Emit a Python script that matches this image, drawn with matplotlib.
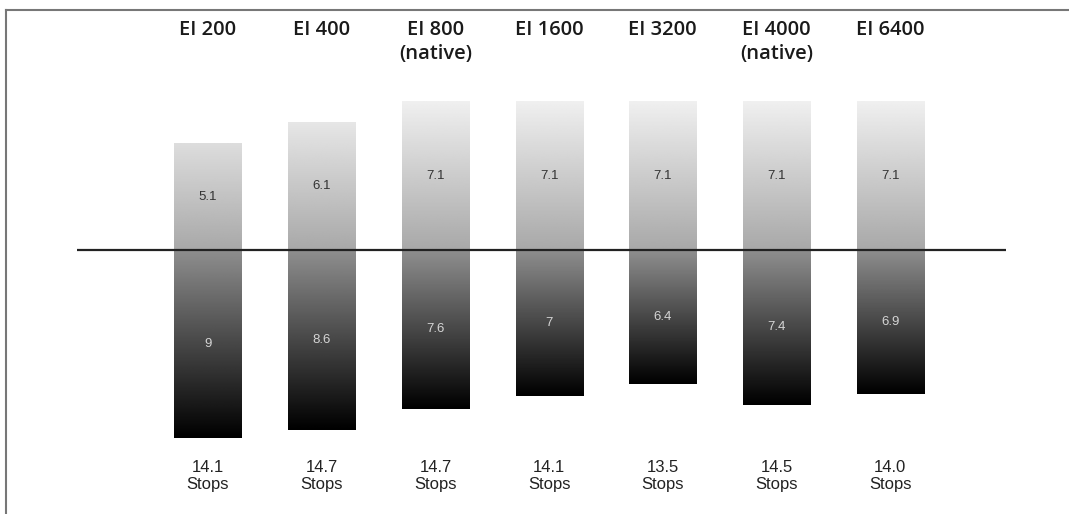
import numpy as np
import matplotlib.pyplot as plt
from matplotlib.lines import Line2D

# data
exposure_index = ["EI 200", "EI 400", "EI 800\n(native)", "EI 1600",
                  "EI 3200", "EI 4000\n(native)", "EI 6400"]
stops_above = [5.1, 6.1, 7.1, 7.1, 7.1, 7.1, 7.1]
stops_below = [9, 8.6, 7.6, 7, 6.4, 7.4, 6.9]
total_stops = ["14.1", "14.7", "14.7", "14.1", "13.5", "14.5", "14.0"]

W, H = 1069, 514
fig = plt.figure(figsize=(W / 100, H / 100), dpi=100)
ax = fig.add_axes([0, 0, 1, 1])
ax.set_axis_off()

bar_w = 0.59
x = np.arange(len(exposure_index))

def gradient_bar(xc, y0, y1, g0, g1):
    # vertical grey gradient from g0 at y0 to g1 at y1
    col = np.linspace(g0, g1, 256).reshape(-1, 1)
    lo, hi = min(y0, y1), max(y0, y1)
    if y0 > y1:
        col = col[::-1]
    ax.imshow(col, extent=[xc - bar_w / 2, xc + bar_w / 2, lo, hi],
              origin="lower", cmap="gray", vmin=0, vmax=1,
              aspect="auto", interpolation="bilinear", zorder=1)

top_max = max(stops_above)
for i in range(len(x)):
    up = stops_above[i]
    dn = stops_below[i]
    # upper part: lighter the higher it goes
    g_top = 0.68 + 0.26 * up / top_max
    gradient_bar(x[i], 0, up, 0.66, g_top)
    # lower part: fades to black
    gradient_bar(x[i], 0, -dn, 0.56, 0.0)

    ax.text(x[i], up / 2, f"{up:g}", ha="center", va="center",
            fontsize=9.5, color="#333333", family="Liberation Sans", zorder=3)
    ax.text(x[i], -dn / 2, f"{dn:g}", ha="center", va="center",
            fontsize=9.5, color="#d5d5d5", family="Liberation Sans", zorder=3)

    ax.text(x[i], 0.962, exposure_index[i], transform=ax.get_xaxis_transform(),
            ha="center", va="top", fontsize=14.5, fontweight="semibold",
            family="Open Sans", color="#1a1a1a", linespacing=1.3)
    ax.text(x[i], 0.106, total_stops[i] + "\nStops",
            transform=ax.get_xaxis_transform(), ha="center", va="top",
            fontsize=12, family="Liberation Sans", color="#222222",
            linespacing=1.2)

ax.hlines(0, -1.15, 7.02, color="#222222", lw=1.6, zorder=2)

ax.set_xlim(-208 / 113.7, (W - 208) / 113.7)
ax.set_ylim(-(H - 250) / 20.9, 250 / 20.9)

# frame lines (top and left)
fig.add_artist(Line2D([6 / W, 1], [1 - 10 / H, 1 - 10 / H], color="#777777", lw=1.5))
fig.add_artist(Line2D([6 / W, 6 / W], [0, 1 - 10 / H], color="#777777", lw=1.5))

fig.savefig("out.png", dpi=100, facecolor="white")
